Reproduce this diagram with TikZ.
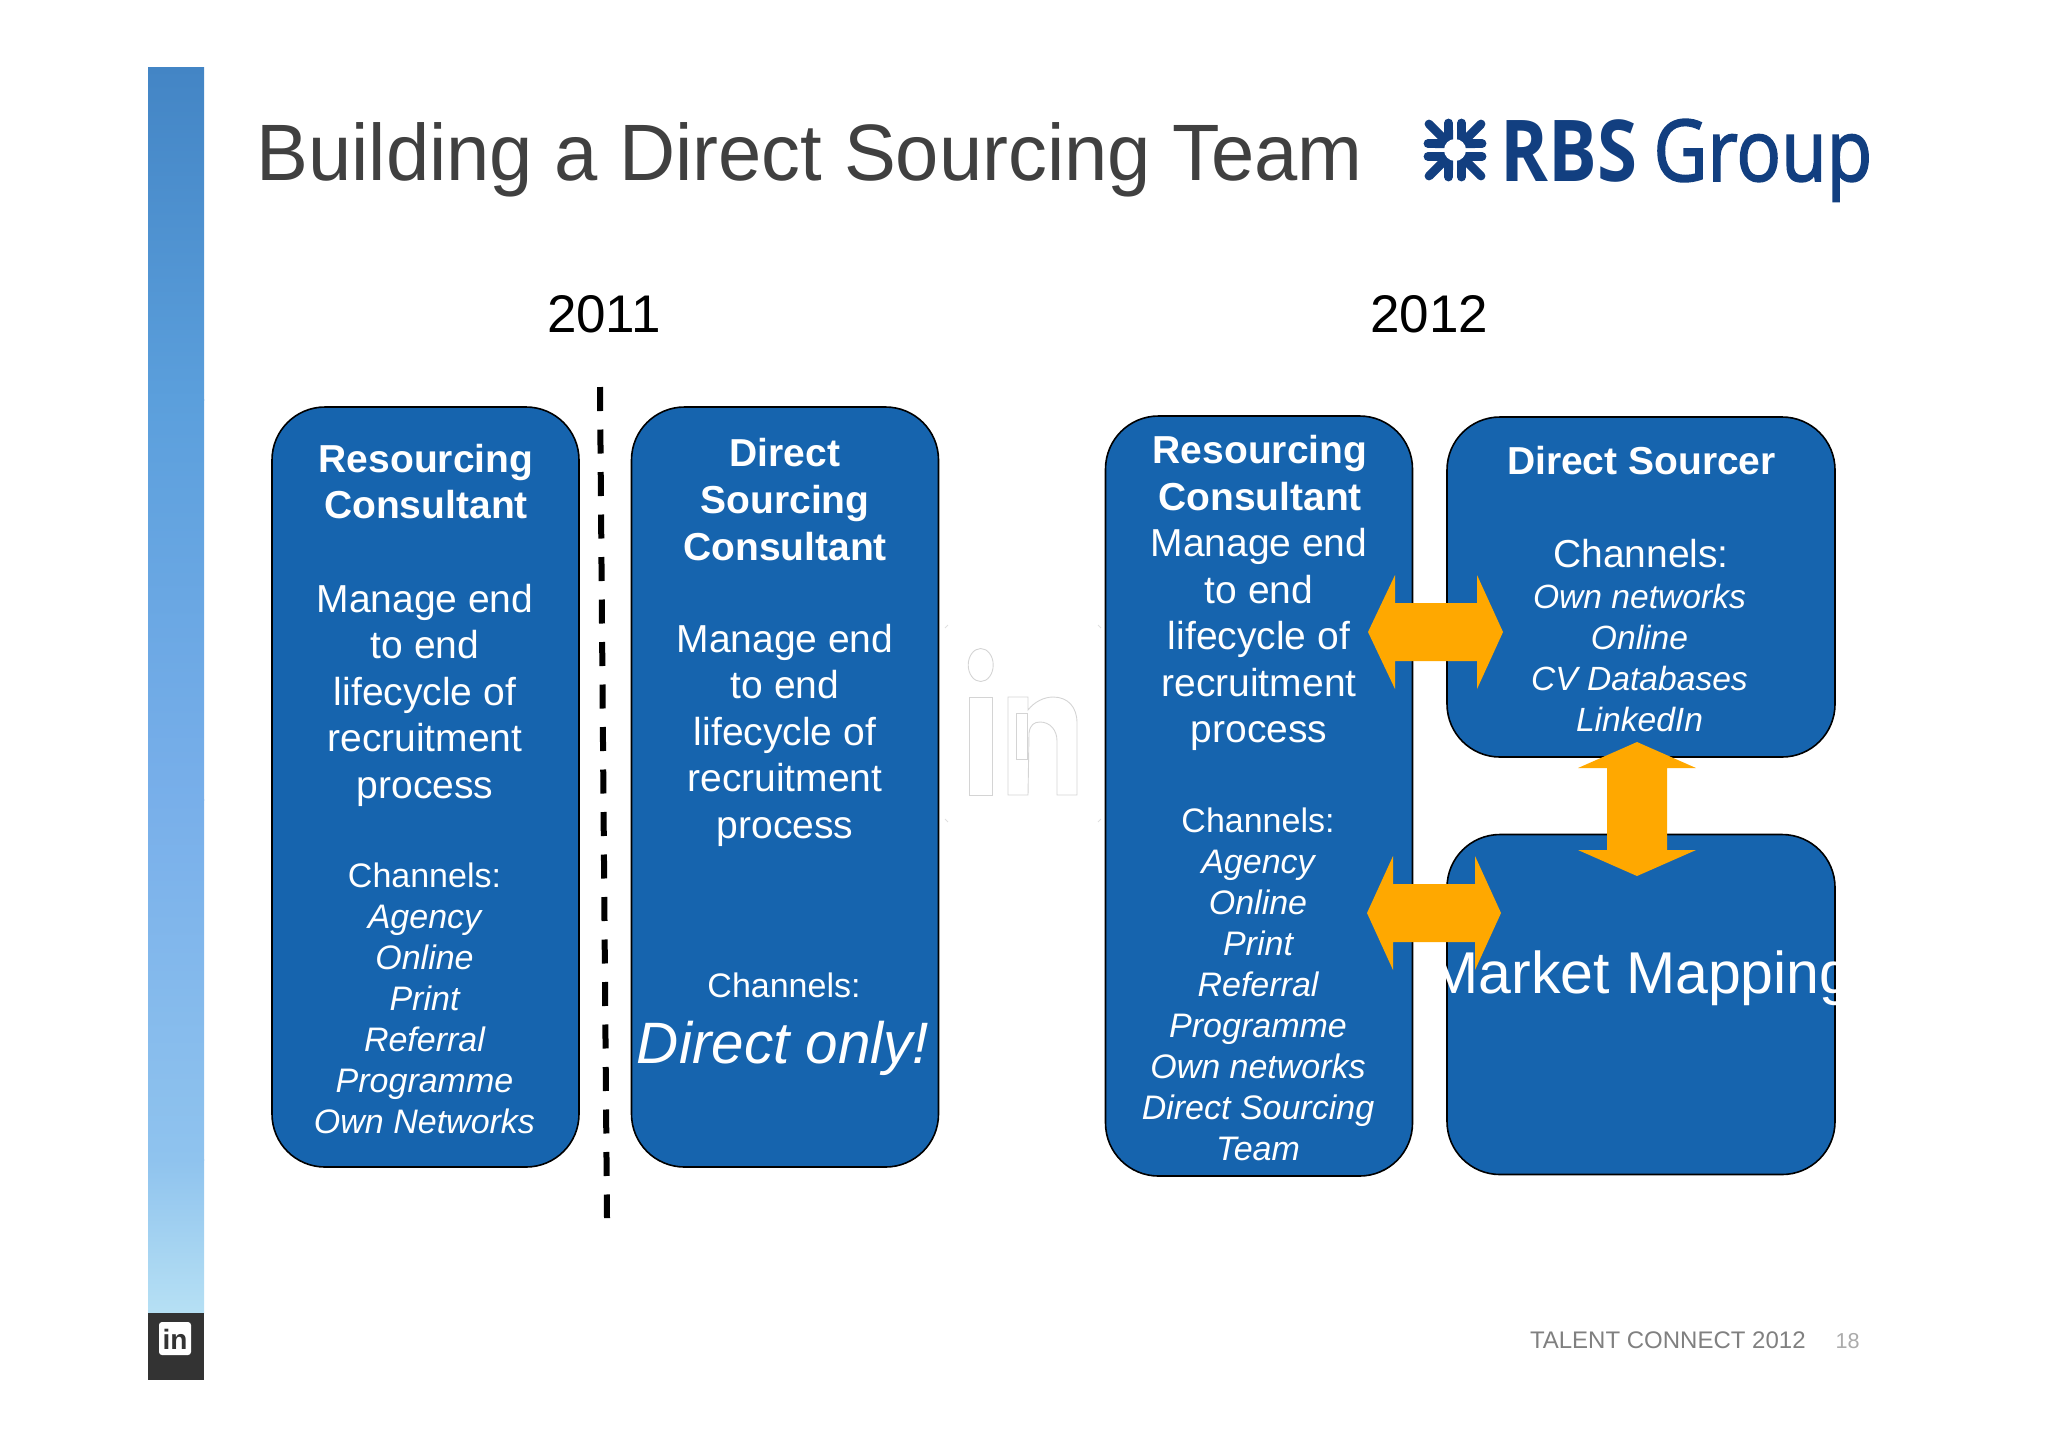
\documentclass[tikz,border=0pt]{standalone}
\usepackage{fontspec}
\setmainfont{Liberation Sans}
\newfontfamily\logofont{Open Sans}
\newfontfamily\groupfont[FakeBold=2]{Open Sans}
\definecolor{boxblue}{HTML}{1664AE}
\definecolor{arroworange}{HTML}{FFA800}
\definecolor{logonavy}{HTML}{123F80}
\definecolor{titlegrey}{HTML}{404040}
\definecolor{barA}{HTML}{4385C5}
\definecolor{barB}{HTML}{5B9FDC}
\definecolor{barC}{HTML}{78AFEA}
\definecolor{barD}{HTML}{8FC3EE}
\definecolor{barE}{HTML}{B6E0F4}
\definecolor{bardark}{HTML}{333333}
\newcommand{\topstrut}{\rule{0pt}{20pt}}
\tikzset{
  bluebox/.style={draw=black,line width=0.8pt,fill=boxblue,rounded corners=26.5pt,inner sep=0pt,outer sep=0pt},
  blocktext/.style={anchor=north,align=center,inner sep=0pt,outer sep=0pt,text=white},
  headfont/.style={font=\fontsize{19.5}{23.4}\selectfont\bfseries},
  bodyfont/.style={font=\fontsize{19.5}{23.3}\selectfont},
  chanfont/.style={font=\fontsize{17}{20.5}\selectfont},
  twohead/.style={fill=arroworange,draw=none},
  ghost/.style={draw=black!17,line width=0.45pt,fill=none},
  yearlabel/.style={anchor=base,inner sep=0pt,font=\fontsize{26.5}{30}\selectfont,text=black},
}
\begin{document}
\begin{tikzpicture}[x=0.5pt,y=-0.5pt]
\useasboundingbox (0,0) rectangle (2048,1447);
% side bar
\shade[top color=barA,bottom color=barB] (148,67) rectangle (204,400);
\shade[top color=barB,bottom color=barC] (148,399.5) rectangle (204,800);
\shade[top color=barC,bottom color=barD] (148,799.5) rectangle (204,1160);
\shade[top color=barD,bottom color=barE] (148,1159.5) rectangle (204,1313);
\fill[bardark] (148,1313) rectangle (204,1380);
\fill[white,rounded corners=1.5pt] (159,1322) rectangle (191,1355);
\node[anchor=base,inner sep=0pt,text=bardark,font=\fontsize{14}{14}\selectfont\bfseries] (barin) at (175,1349) {in};
% title and logo
\node[anchor=base west,inner sep=0pt,text=titlegrey,font=\fontsize{40}{48}\selectfont] (title) at (256,180) {\scalebox{.972}[1]{Building a Direct Sourcing Team}};
\begin{scope}[shift={(1455,150)},logonavy]
  \foreach \sx/\sy in {1/1,-1/1,1/-1,-1/-1}{
    \begin{scope}[xscale=\sx,yscale=\sy]
      \fill (2,2) -- (2,20) -- (20,2) -- cycle;
      \draw[line width=4.4pt,line cap=round] (12,12) -- (26,26);
      \draw[line width=4.4pt,line cap=round] (6.5,12) -- (6.5,27);
      \draw[line width=4.4pt,line cap=round] (12,6.5) -- (27,6.5);
    \end{scope}
  }
  \fill[white] (0,0) circle[radius=11];
\end{scope}
\node[anchor=base west,inner sep=0pt,text=logonavy,font=\logofont\fontsize{42.7}{50}\selectfont\bfseries] (logoa) at (1500,181) {\scalebox{.85}[1]{RBS}};
\node[anchor=base west,inner sep=0pt,text=logonavy,font=\groupfont\fontsize{42.7}{50}\selectfont] (logob) at (1653,181) {\scalebox{.87}[1]{Group}};
% years
\node[yearlabel] (yleft) at (604,332) {2011};
\node[yearlabel] (yright) at (1429,332) {2012};
% dashed divider
\coordinate (dashtop) at (600,387);
\coordinate (dashbot) at (607,1218);
\draw[line width=3pt,dash pattern=on 12pt off 9.25pt] (dashtop) -- (dashbot);
% ghost logo
\draw[ghost] (980.7,665) ellipse[x radius=12.5,y radius=16.5];
\draw[ghost] (969,697) rectangle (992,795);
\draw[ghost] (1016,713) rectangle (1027,759);
\draw[ghost] (1028,710) .. controls (1034,702) and (1044,697) .. (1053,697) .. controls (1068,697) and (1077,707) .. (1077,723) -- (1077,795) -- (1057,795) -- (1057,741) .. controls (1057,730) and (1050,722) .. (1040,722) .. controls (1034,722) and (1030,725) .. (1029,733) -- (1028,795) -- (1008,795) -- (1008,697) -- (1028,697) -- cycle;
\foreach \gx/\gy/\hx/\hy in {948/625/-3/3, 1098/625/3/3, 948/822/-3/-3, 1098/822/3/-3}
  \draw[black!12,line width=0.4pt] (\gx,\gy) -- ++(\hx,\hy);
% boxes
\node[bluebox,minimum width=153.5pt,minimum height=380pt] (boxa) at (425.5,787) {};
\node[bluebox,minimum width=153.5pt,minimum height=380pt] (boxb) at (785,787) {};
\node[bluebox,minimum width=153.5pt,minimum height=380pt] (boxc) at (1259,796) {};
\node[bluebox,minimum width=194pt,minimum height=170pt] (boxd) at (1641,587) {};
\node[bluebox,minimum width=194pt,minimum height=170pt] (boxe) at (1641,1004.5) {};
% box A
\node[blocktext,headfont] (aH) at (426,432) {\topstrut Resourcing\\Consultant};
\node[blocktext,bodyfont] (aB) at (425,572) {\topstrut Manage end\\to end\\lifecycle of\\recruitment\\process};
\node[blocktext,chanfont] (aC) at (424.5,847) {\topstrut Channels:\\\itshape Agency\\\itshape Online\\\itshape Print\\\itshape Referral\\\itshape Programme\\\itshape Own Networks};
% box B
\node[blocktext,headfont] (bH) at (785,426.5) {\topstrut Direct\\Sourcing\\Consultant};
\node[blocktext,bodyfont] (bB) at (785,612) {\topstrut Manage end\\to end\\lifecycle of\\recruitment\\process};
\node[blocktext,chanfont] (bC) at (784,957.5) {\topstrut Channels:};
\node[anchor=base,inner sep=0pt,text=white,font=\fontsize{29.2}{35}\selectfont\itshape] (bD) at (783,1063) {Direct only!};
% box C
\node[blocktext,headfont] (cH) at (1260,423.5) {\topstrut Resourcing\\Consultant};
\node[blocktext,bodyfont] (cB) at (1259,516.5) {\topstrut Manage end\\to end\\lifecycle of\\recruitment\\process};
\node[blocktext,chanfont] (cC) at (1258,792) {\topstrut Channels:\\\itshape Agency\\\itshape Online\\\itshape Print\\\itshape Referral\\\itshape Programme\\\itshape Own networks\\\itshape Direct Sourcing\\\itshape Team};
% box D
\node[blocktext,headfont] (dH) at (1641.5,434) {\topstrut Direct Sourcer};
\node[blocktext,bodyfont] (dB) at (1641,527) {\topstrut Channels:};
\node[blocktext,chanfont,font=\fontsize{16.8}{20.6}\selectfont\itshape] (dC) at (1639.5,568) {\topstrut Own networks\\Online\\CV Databases\\LinkedIn};
% box E
\node[anchor=base,inner sep=0pt,text=white,font=\fontsize{29.5}{35}\selectfont] (eT) at (1641,993.5) {Market Mapping};
% block arrows
\fill[twohead] (1368,632) -- (1395,575) -- (1395,603) -- (1477,603) -- (1477,575) -- (1503,632) -- (1477,689) -- (1477,661) -- (1395,661) -- (1395,689) -- cycle;
\fill[twohead] (1367,913) -- (1393,856) -- (1393,884) -- (1475,884) -- (1475,856) -- (1501,913) -- (1475,970) -- (1475,942) -- (1393,942) -- (1393,970) -- cycle;
\fill[twohead] (1637,742) -- (1696,768) -- (1667,768) -- (1667,850) -- (1696,850) -- (1637,876) -- (1578,850) -- (1607,850) -- (1607,768) -- (1578,768) -- cycle;
% footer
\node[anchor=base east,inner sep=0pt,text=black!50,font=\fontsize{12}{14}\selectfont] (foot) at (1806,1348) {TALENT CONNECT 2012};
\node[anchor=base east,inner sep=0pt,text=black!33,font=\fontsize{10.8}{13}\selectfont] (pageno) at (1860,1348) {18};
\end{tikzpicture}
\end{document}
